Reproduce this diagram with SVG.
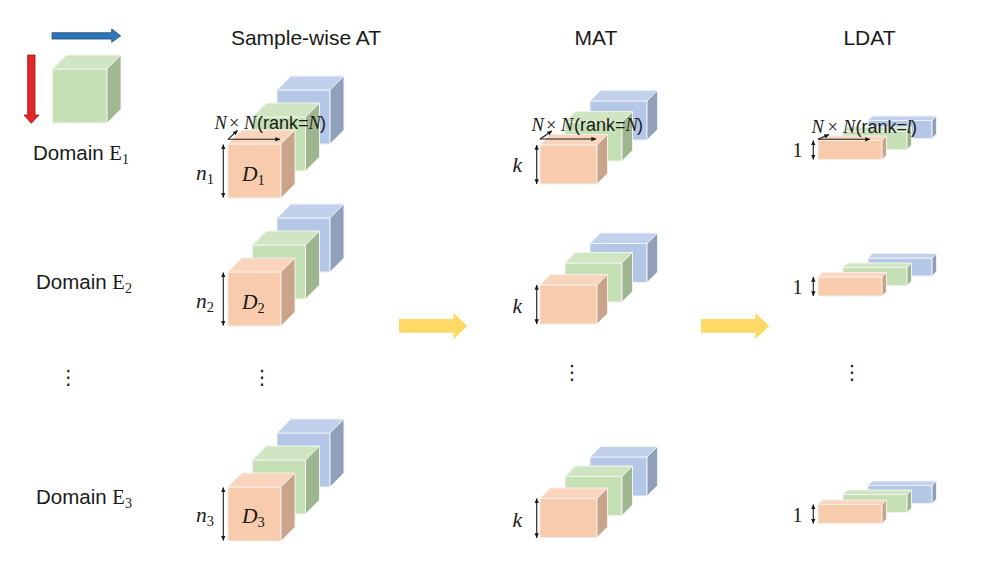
<svg xmlns="http://www.w3.org/2000/svg" xmlns:xlink="http://www.w3.org/1999/xlink" width="985" height="573" viewBox="0 0 985 573">
<style>
.sans{font-family:"Liberation Sans",Arial,sans-serif;fill:#1a1a1a}
.title{font-size:21px}
.dom{font-size:20.5px}
.serif{font-family:"Liberation Serif","DejaVu Serif",serif;fill:#1a1a1a}
.it{font-style:italic}
.lbl{font-size:18.5px}
.lsans{font-family:"Liberation Sans",Arial,sans-serif;font-size:18px}
.math{font-size:21.5px}
.dots{font-family:"DejaVu Sans",sans-serif;font-size:20px;fill:#1a1a1a}
.ln{stroke:#1a1a1a;stroke-width:1.1;fill:none}
.yarrow{fill:#FFD966}
</style>
<defs>
<marker id="ah" viewBox="0 0 8 8" refX="7.5" refY="4" markerWidth="5" markerHeight="5" markerUnits="userSpaceOnUse" orient="auto-start-reverse">
<path d="M0,0.5 L8,4 L0,7.5 z" fill="#1a1a1a"/>
</marker>
<g id="sO" stroke="#F4EFEA" stroke-width="1" stroke-linejoin="round">
<rect x="0" y="0" width="53" height="54" fill="#F8CBAD"/>
<polygon points="0,0 14,-14 67,-14 53,0" fill="#FAD5BD"/>
<polygon points="53,0 67,-14 67,40 53,54" fill="#C9A38A"/>
</g>
<g id="sG" stroke="#F0F4EE" stroke-width="1" stroke-linejoin="round">
<rect x="0" y="0" width="53" height="54" fill="#C5E0B4"/>
<polygon points="0,0 14,-14 67,-14 53,0" fill="#D0E6C2"/>
<polygon points="53,0 67,-14 67,40 53,54" fill="#9EB690"/>
</g>
<g id="sB" stroke="#EEF1F6" stroke-width="1" stroke-linejoin="round">
<rect x="0" y="0" width="53" height="54" fill="#B4C7E7"/>
<polygon points="0,0 14,-14 67,-14 53,0" fill="#C1D1EC"/>
<polygon points="53,0 67,-14 67,40 53,54" fill="#90A0BA"/>
</g>
<g id="mO" stroke="#F4EFEA" stroke-width="1" stroke-linejoin="round">
<rect x="0" y="0" width="57" height="39" fill="#F8CBAD"/>
<polygon points="0,0 10.5,-10.5 67.5,-10.5 57,0" fill="#FAD5BD"/>
<polygon points="57,0 67.5,-10.5 67.5,28.5 57,39" fill="#C9A38A"/>
</g>
<g id="mG" stroke="#F0F4EE" stroke-width="1" stroke-linejoin="round">
<rect x="0" y="0" width="57" height="39" fill="#C5E0B4"/>
<polygon points="0,0 10.5,-10.5 67.5,-10.5 57,0" fill="#D0E6C2"/>
<polygon points="57,0 67.5,-10.5 67.5,28.5 57,39" fill="#9EB690"/>
</g>
<g id="mB" stroke="#EEF1F6" stroke-width="1" stroke-linejoin="round">
<rect x="0" y="0" width="57" height="39" fill="#B4C7E7"/>
<polygon points="0,0 10.5,-10.5 67.5,-10.5 57,0" fill="#C1D1EC"/>
<polygon points="57,0 67.5,-10.5 67.5,28.5 57,39" fill="#90A0BA"/>
</g>
<g id="lO" stroke="#F4EFEA" stroke-width="1" stroke-linejoin="round">
<rect x="0" y="0" width="64" height="19" fill="#F8CBAD"/>
<polygon points="0,0 4.5,-4.5 68.5,-4.5 64,0" fill="#FAD5BD"/>
<polygon points="64,0 68.5,-4.5 68.5,14.5 64,19" fill="#C9A38A"/>
</g>
<g id="lG" stroke="#F0F4EE" stroke-width="1" stroke-linejoin="round">
<rect x="0" y="0" width="64" height="18" fill="#C5E0B4"/>
<polygon points="0,0 4.5,-4.5 68.5,-4.5 64,0" fill="#D0E6C2"/>
<polygon points="64,0 68.5,-4.5 68.5,13.5 64,18" fill="#9EB690"/>
</g>
<g id="lB" stroke="#EEF1F6" stroke-width="1" stroke-linejoin="round">
<rect x="0" y="0" width="64" height="18" fill="#B4C7E7"/>
<polygon points="0,0 4.5,-4.5 68.5,-4.5 64,0" fill="#C1D1EC"/>
<polygon points="64,0 68.5,-4.5 68.5,13.5 64,18" fill="#90A0BA"/>
</g>
</defs>
<rect width="985" height="573" fill="#ffffff"/>

<g id="legend">
<polygon points="52,32.7 111.7,32.7 111.7,29 120.7,35.8 111.7,42.3 111.7,39 52,39" fill="#2E75B6" stroke="#1F4E79" stroke-width="0.8"/>
<polygon points="27.7,55 35,55 35,115 39,115 31.3,123.3 24,115 27.7,115" fill="#E32626" stroke="#A50F0F" stroke-width="0.8"/>
<g stroke="#EEF3EA" stroke-width="1" stroke-linejoin="round">
<rect x="52.5" y="69" width="54.5" height="54" fill="#C5E0B4"/>
<polygon points="52.5,69 66.5,55 121,55 107,69" fill="#D0E6C2"/>
<polygon points="107,69 121,55 121,109 107,123" fill="#A2B893"/>
</g>
</g>

<g id="titles" class="sans title">
<text x="306" y="45" text-anchor="middle">Sample-wise AT</text>
<text x="596" y="45" text-anchor="middle">MAT</text>
<text x="869.5" y="45" text-anchor="middle">LDAT</text>
</g>

<g id="domain1"><text x="33" y="160" class="sans dom">Domain <tspan class="serif">E<tspan font-size="14" dy="4">1</tspan></tspan></text></g>
<g id="domain2"><text x="36" y="289.3" class="sans dom">Domain <tspan class="serif">E<tspan font-size="14" dy="4">2</tspan></tspan></text></g>
<g id="domain3"><text x="36" y="504.3" class="sans dom">Domain <tspan class="serif">E<tspan font-size="14" dy="4">3</tspan></tspan></text></g>

<g id="sat1">
<use xlink:href="#sB" href="#sB" x="277" y="90"/>
<use xlink:href="#sG" href="#sG" x="252.5" y="117"/>
<use xlink:href="#sO" href="#sO" x="228" y="144"/>
<text x="242" y="180.7" class="serif math"><tspan class="it">D</tspan><tspan font-size="14.5" dy="4">1</tspan></text>
<text x="196" y="180" class="serif math"><tspan class="it">n</tspan><tspan font-size="14.5" dy="4">1</tspan></text>
</g>
<g id="sat2">
<use xlink:href="#sB" href="#sB" x="277" y="218"/>
<use xlink:href="#sG" href="#sG" x="252.5" y="245"/>
<use xlink:href="#sO" href="#sO" x="228" y="272"/>
<text x="242" y="308.5" class="serif math"><tspan class="it">D</tspan><tspan font-size="14.5" dy="4">2</tspan></text>
<text x="196" y="308" class="serif math"><tspan class="it">n</tspan><tspan font-size="14.5" dy="4">2</tspan></text>
</g>
<g id="sat3">
<use xlink:href="#sB" href="#sB" x="277" y="433"/>
<use xlink:href="#sG" href="#sG" x="252.5" y="460"/>
<use xlink:href="#sO" href="#sO" x="228" y="487"/>
<text x="242" y="522.5" class="serif math"><tspan class="it">D</tspan><tspan font-size="14.5" dy="4">3</tspan></text>
<text x="196" y="522" class="serif math"><tspan class="it">n</tspan><tspan font-size="14.5" dy="4">3</tspan></text>
</g>

<g id="mat1">
<use xlink:href="#mB" href="#mB" x="590" y="101"/>
<use xlink:href="#mG" href="#mG" x="565" y="122"/>
<use xlink:href="#mO" href="#mO" x="540" y="145"/>
<text x="512.5" y="171.5" class="serif math it">k</text>
</g>
<g id="mat2">
<use xlink:href="#mB" href="#mB" x="590" y="243.5"/>
<use xlink:href="#mG" href="#mG" x="565" y="263"/>
<use xlink:href="#mO" href="#mO" x="540" y="285"/>
<text x="512.5" y="313" class="serif math it">k</text>
</g>
<g id="mat3">
<use xlink:href="#mB" href="#mB" x="590" y="457"/>
<use xlink:href="#mG" href="#mG" x="565" y="476.5"/>
<use xlink:href="#mO" href="#mO" x="540" y="498.5"/>
<text x="512.5" y="527" class="serif math it">k</text>
</g>

<g id="ldat1">
<use xlink:href="#lB" href="#lB" x="868" y="120.5"/>
<use xlink:href="#lG" href="#lG" x="843" y="131.5"/>
<use xlink:href="#lO" href="#lO" x="818" y="140.5"/>
<text x="792.5" y="157" class="serif" font-size="20">1</text>
</g>
<g id="ldat2">
<use xlink:href="#lB" href="#lB" x="868" y="258"/>
<use xlink:href="#lG" href="#lG" x="843" y="267.5"/>
<use xlink:href="#lO" href="#lO" x="818" y="277"/>
<text x="792.5" y="293.5" class="serif" font-size="20">1</text>
</g>
<g id="ldat3">
<use xlink:href="#lB" href="#lB" x="868" y="485.5"/>
<use xlink:href="#lG" href="#lG" x="843" y="494.5"/>
<use xlink:href="#lO" href="#lO" x="818" y="504.5"/>
<text x="792.5" y="521.5" class="serif" font-size="20">1</text>
</g>

<g id="dimlabels" class="serif lbl">
<text y="129"><tspan x="214.5" class="it">N</tspan><tspan x="229">×</tspan><tspan x="244" class="it">N</tspan><tspan x="257" class="lsans">(rank=</tspan><tspan x="308.5" class="it">N</tspan><tspan x="320" class="lsans">)</tspan></text>
<text y="131"><tspan x="531.5" class="it">N</tspan><tspan x="546">×</tspan><tspan x="561" class="it">N</tspan><tspan x="574" class="lsans">(rank=</tspan><tspan x="625.5" class="it">N</tspan><tspan x="637" class="lsans">)</tspan></text>
<text y="133"><tspan x="811.5" class="it">N</tspan><tspan x="827.5">×</tspan><tspan x="843" class="it">N</tspan><tspan x="855.5" class="lsans">(rank=</tspan><tspan x="906.5" class="it">l</tspan><tspan x="911" class="lsans">)</tspan></text>
</g>

<g id="connectors">
<line x1="228" y1="139.3" x2="280" y2="139.3" class="ln" marker-end="url(#ah)"/>
<line x1="228" y1="139.3" x2="237.5" y2="130.5" class="ln" marker-end="url(#ah)"/>
<line x1="540" y1="139" x2="596" y2="139" class="ln" marker-end="url(#ah)"/>
<line x1="540" y1="139" x2="552" y2="131" class="ln" marker-end="url(#ah)"/>
<line x1="818" y1="139.3" x2="870" y2="139.3" class="ln" marker-end="url(#ah)"/>
<line x1="818" y1="139.3" x2="829" y2="134.5" class="ln" marker-end="url(#ah)"/>
<line x1="223.3" y1="144.5" x2="223.3" y2="197.5" class="ln" marker-start="url(#ah)" marker-end="url(#ah)"/>
<line x1="223.3" y1="272.5" x2="223.3" y2="325.5" class="ln" marker-start="url(#ah)" marker-end="url(#ah)"/>
<line x1="223.3" y1="487.5" x2="223.3" y2="540.5" class="ln" marker-start="url(#ah)" marker-end="url(#ah)"/>
<line x1="536.7" y1="145" x2="536.7" y2="184" class="ln" marker-start="url(#ah)" marker-end="url(#ah)"/>
<line x1="536.7" y1="285" x2="536.7" y2="324" class="ln" marker-start="url(#ah)" marker-end="url(#ah)"/>
<line x1="536.7" y1="498.5" x2="536.7" y2="538" class="ln" marker-start="url(#ah)" marker-end="url(#ah)"/>
<line x1="813.3" y1="140.5" x2="813.3" y2="159.5" class="ln" marker-start="url(#ah)" marker-end="url(#ah)"/>
<line x1="813.3" y1="277" x2="813.3" y2="296" class="ln" marker-start="url(#ah)" marker-end="url(#ah)"/>
<line x1="813.3" y1="504.5" x2="813.3" y2="523.5" class="ln" marker-start="url(#ah)" marker-end="url(#ah)"/>
<polygon class="yarrow" points="399,319 453.3,319 453.3,312.7 467.3,326 453.3,339.3 453.3,332.7 399,332.7"/>
<polygon class="yarrow" points="701,319 755.3,319 755.3,312.7 769.3,326 755.3,339.3 755.3,332.7 701,332.7"/>
</g>

<g id="ellipses" class="dots" text-anchor="middle">
<text x="68.3" y="384">⋮</text>
<text x="262" y="384">⋮</text>
<text x="572" y="379">⋮</text>
<text x="852" y="379">⋮</text>
</g>
</svg>
